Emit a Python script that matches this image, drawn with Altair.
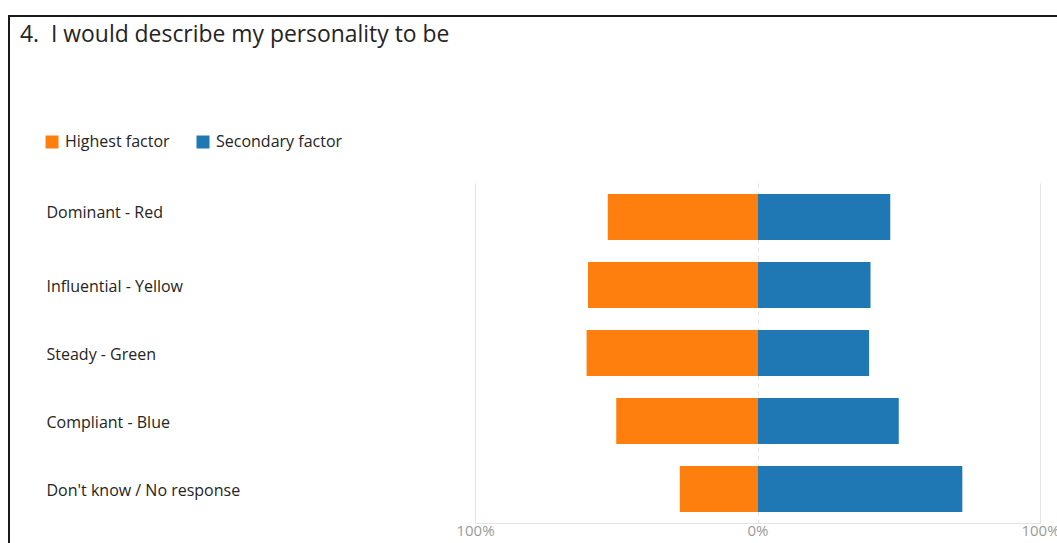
import altair as alt
import pandas as pd

TITLE = "4.\u00a0\u00a0I would describe my personality to be"
categories = ["Dominant - Red", "Influential - Yellow", "Steady - Green",
              "Compliant - Blue", "Don't know / No response"]
factors = ["Highest factor", "Secondary factor"]
highest = [0.53, 0.60, 0.605, 0.50, 0.275]
secondary = [0.47, 0.40, 0.395, 0.50, 0.725]
colors = ["#ff7f0e", "#1f77b4"]
tick_values = [-1, 0, 1]

rows = []
for c, h, s in zip(categories, highest, secondary):
    rows.append({"category": c, "factor": factors[0], "value": -h})
    rows.append({"category": c, "factor": factors[1], "value": s})
df = pd.DataFrame(rows)

FONT = "Open Sans"
TEXT = "#252423"

bars = alt.Chart(df).mark_bar().encode(
    x=alt.X("value:Q", stack=None,
            scale=alt.Scale(domain=[-1, 1], nice=False),
            axis=alt.Axis(values=tick_values, title=None,
                          labelExpr="format(abs(datum.value), '.0%')",
                          grid=True, gridColor="#e4e4e4",
                          gridDash=alt.condition("datum.value == 0", alt.value([4, 4]), alt.value([])),
                          domain=True, domainColor="#e4e4e4", ticks=False,
                          labelColor="#9a9a9a", labelFontSize=15, labelFont=FONT,
                          labelPadding=0, labelFlush=False, labelBound=False,
                          labelOverlap=False)),
    y=alt.Y("category:N", sort=categories, title=None,
            scale=alt.Scale(paddingInner=0.32, paddingOuter=0.16),
            axis=alt.Axis(domain=False, ticks=False, tickSize=0, grid=False,
                          labelAlign="left", labelPadding=429,
                          labelOffset=alt.condition("datum.value == 'Dominant - Red'",
                                                    alt.value(-4), alt.value(2)),
                          labelFontSize=16, labelFont=FONT, labelColor=TEXT,
                          labelLimit=400)),
    color=alt.Color("factor:N",
                    scale=alt.Scale(domain=factors, range=colors),
                    legend=alt.Legend(title=None, orient="none", direction="horizontal",
                                      legendX=-431, legendY=-49,
                                      symbolType="square", symbolSize=169,
                                      symbolStrokeWidth=0, symbolOpacity=1,
                                      labelFontSize=16, labelFont=FONT, labelColor=TEXT,
                                      labelOffset=5, columnPadding=25)),
)

one = alt.Data(values=[{"t": TITLE}])

title = alt.Chart(one).mark_text(
    align="left", baseline="alphabetic", font=FONT, fontSize=22.9, color=TEXT
).encode(text="t:N", x=alt.value(-455), y=alt.value(-141))

frame_v = alt.Chart(one).mark_rule(color="#1a1a1a", strokeWidth=2).encode(
    x=alt.value(-466), y=alt.value(-167), y2=alt.value(400))
frame_h = alt.Chart(one).mark_rule(color="#1a1a1a", strokeWidth=2).encode(
    x=alt.value(-467), x2=alt.value(700), y=alt.value(-167))

chart = alt.layer(bars, title, frame_v, frame_h).properties(
    width=565, height=340,
    autosize=alt.AutoSizeParams(type="none"),
    padding={"left": 475, "top": 183, "right": 17, "bottom": 20},
    background="white",
).configure_view(strokeWidth=0)

chart.save("out.html", embed_options={"renderer": "svg", "actions": False})
